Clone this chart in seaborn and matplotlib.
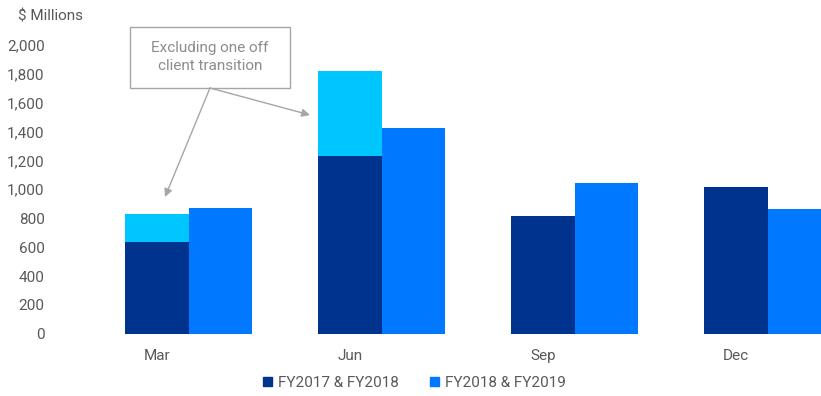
import pandas as pd
import matplotlib.pyplot as plt
import seaborn as sns
from matplotlib.patches import Rectangle

months = ['Mar', 'Jun', 'Sep', 'Dec']
fy17_18 = [637, 1232, 817, 1017]
fy18_19 = [872, 1425, 1045, 865]
one_off = [193, 588, 0, 0]   # excluded one off client transition, stacked on FY17&18

series = ['FY2017 & FY2018', 'FY2018 & FY2019']
dark, blue, cyan = '#00338D', '#0078FF', '#00C6FF'
grey = '#595959'

df = pd.DataFrame({
    'month': months * 2,
    'value': fy17_18 + fy18_19,
    'series': [series[0]] * 4 + [series[1]] * 4,
})

sns.set_theme(style='white')
plt.rcParams['font.family'] = ['Roboto', 'DejaVu Sans']

fig = plt.figure(figsize=(8.21, 3.96), dpi=100)
ax = fig.add_axes([0.112, 0.157, 0.888, 0.73])

sns.barplot(data=df, x='month', y='value', hue='series', order=months,
            hue_order=series, palette=[dark, blue], width=0.66, gap=0,
            saturation=1, ax=ax, legend=False, edgecolor='none')

# one-off part on top of the dark bars
dark_bars = ax.patches[:4]
for p, extra in zip(dark_bars, one_off):
    if extra:
        ax.bar(p.get_x(), extra, width=p.get_width(), bottom=p.get_height(),
               align='edge', color=cyan, edgecolor='none')

ax.set_ylim(0, 2000)
ax.set_xlim(-0.501, 3.276)
ax.set_yticks(range(0, 2001, 200))
ax.set_yticklabels([f'{v:,}' for v in range(0, 2001, 200)])
ax.set_xticks([p.get_x() + p.get_width() / 2 for p in dark_bars])
ax.set_xticklabels(months)
ax.tick_params(axis='y', pad=34, labelsize=11, labelcolor=grey, length=0)
ax.tick_params(axis='x', pad=11, labelsize=11, labelcolor=grey, length=0)
ax.set_xlabel('')
ax.set_ylabel('')
sns.despine(ax=ax, left=True, bottom=True)

fig.text(0.022, 0.958, '$ Millions', fontsize=11, color=grey, va='center')

# annotation box
fig.patches.append(Rectangle((130 / 821, 1 - 88 / 396), 160 / 821, 61 / 396,
                             transform=fig.transFigure, fill=False,
                             edgecolor='#A6A6A6', linewidth=1))
fig.text(210 / 821, 1 - 57 / 396, 'Excluding one off\nclient transition',
         ha='center', va='center', fontsize=11, color='#8C8C8C', linespacing=1.3)
for tx, ty in [(165, 197), (310, 115)]:
    ax.annotate('', xy=(tx / 821, 1 - ty / 396), xycoords='figure fraction',
                xytext=(210 / 821, 1 - 88 / 396), textcoords='figure fraction',
                arrowprops=dict(arrowstyle='-|>', color='#A6A6A6', lw=1,
                                mutation_scale=12, shrinkA=0, shrinkB=0),
                annotation_clip=False)

handles = [Rectangle((0, 0), 1, 1, color=c) for c in (dark, blue)]
fig.legend(handles, series, loc='center', bbox_to_anchor=(0.505, 1 - 383 / 396),
           ncol=2, frameon=False, fontsize=11, handlelength=0.6, handleheight=0.6,
           handletextpad=0.4, columnspacing=2.0, labelcolor=grey)

fig.savefig('out.png', dpi=100)
